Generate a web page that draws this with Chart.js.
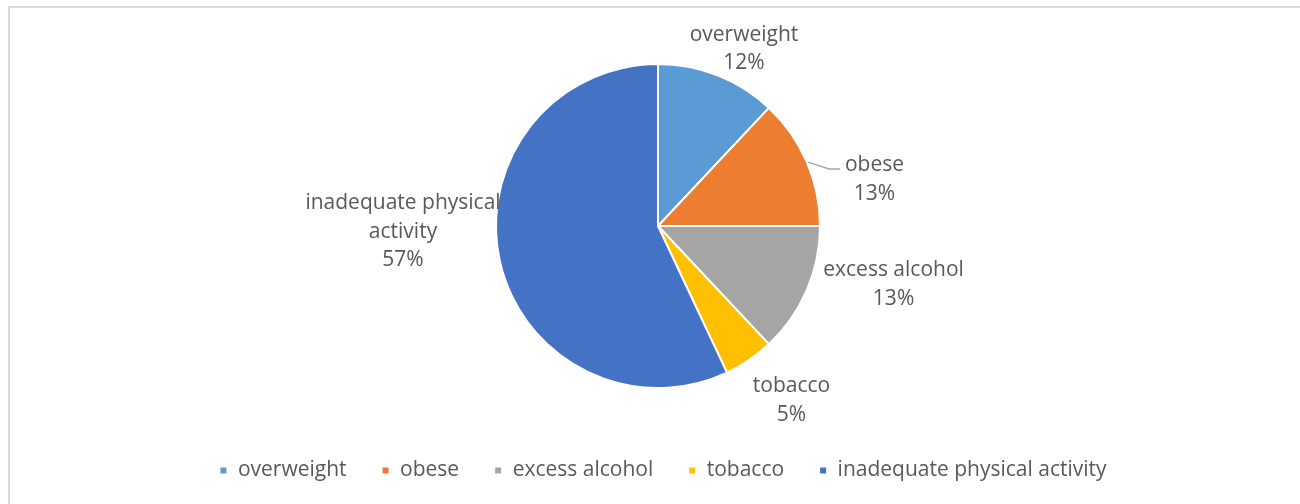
<!DOCTYPE html>
<html>
<head>
<meta charset="utf-8">
<script src="https://cdn.jsdelivr.net/npm/chart.js@4.4.1/dist/chart.umd.min.js"></script>
<style>
  html, body { margin: 0; padding: 0; background: #fff; }
  #wrap { position: relative; width: 1300px; height: 504px; overflow: hidden; }
  #frame { position: absolute; left: 8px; top: 6px; width: 1300px; height: 504px;
           border-left: 2px solid #d9d9d9; border-top: 2px solid #d9d9d9; box-sizing: border-box; pointer-events: none; }
  canvas { position: absolute; left: 0; top: 0; }
</style>
</head>
<body>
<div id="wrap">
  <canvas id="c" width="1300" height="504"></canvas>
  <div id="frame"></div>
</div>
<script>
const categories = ['overweight', 'obese', 'excess alcohol', 'tobacco', 'inadequate physical activity'];
const values = [12, 13, 13, 5, 57];
const colors = ['#5B9BD5', '#ED7D31', '#A5A5A5', '#FFC000', '#4472C4'];

// label block centres, in units of the pie radius, relative to pie centre (layout only)
const labelOffsets = [[0.531, -1.092], [1.336, -0.286], [1.454, 0.362], [0.824, 1.078], [-1.574, 0.035]];
// leader line for 'obese' (radius units)
const leaderLines = { 1: [[0.926, -0.395], [1.056, -0.352], [1.123, -0.352]] };

const FONT = '"Open Sans", sans-serif';
const FS = 21;
const TEXT = '#595959';

function wrapText(ctx, text, maxW) {
  const words = text.split(' ');
  const lines = [];
  let cur = '';
  for (const w of words) {
    const t = cur ? cur + ' ' + w : w;
    if (ctx.measureText(t).width > maxW && cur) { lines.push(cur); cur = w; }
    else cur = t;
  }
  if (cur) lines.push(cur);
  return lines;
}

const labelPlugin = {
  id: 'pieLabels',
  afterLayout(chart) {
    const lg = chart.legend;
    if (lg) { lg.left += 5; lg.right += 5; lg.top += 4; lg.bottom += 4; }
  },
  afterDatasetsDraw(chart) {
    const ctx = chart.ctx;
    const meta = chart.getDatasetMeta(0);
    const total = values.reduce((a, b) => a + b, 0);
    ctx.save();
    ctx.font = FS + 'px ' + FONT;
    ctx.fillStyle = TEXT;
    ctx.textAlign = 'center';
    ctx.textBaseline = 'middle';
    meta.data.forEach((arc, i) => {
      const r = arc.outerRadius, cx = arc.x, cy = arc.y;
      if (leaderLines[i]) {
        ctx.beginPath();
        ctx.strokeStyle = '#a6a6a6';
        ctx.lineWidth = 1.3;
        leaderLines[i].forEach((p, k) => {
          const x = cx + p[0] * r, y = cy + p[1] * r;
          if (k === 0) ctx.moveTo(x, y); else ctx.lineTo(x, y);
        });
        ctx.stroke();
      }
      const lines = wrapText(ctx, categories[i], 230);
      lines.push(Math.round(values[i] / total * 100) + '%');
      const lh = 28.7;
      const bx = cx + labelOffsets[i][0] * r;
      const by = cy + labelOffsets[i][1] * r;
      const y0 = by - (lines.length - 1) * lh / 2;
      lines.forEach((l, k) => ctx.fillText(l, bx, y0 + k * lh));
    });
    ctx.restore();
  }
};

new Chart(document.getElementById('c'), {
  type: 'pie',
  data: {
    labels: categories,
    datasets: [{
      data: values,
      backgroundColor: colors,
      borderColor: '#ffffff',
      borderWidth: 2,
      radius: 162
    }]
  },
  options: {
    responsive: false,
    animation: false,
    layout: { padding: { left: 16, right: 0, top: 31, bottom: 17 } },
    plugins: {
      tooltip: { enabled: false },
      legend: {
        position: 'bottom',
        labels: {
          boxWidth: 8,
          boxHeight: 8,
          padding: 35,
          color: TEXT,
          font: { family: FONT, size: FS }
        }
      }
    }
  },
  plugins: [labelPlugin]
});
</script>
</body>
</html>
